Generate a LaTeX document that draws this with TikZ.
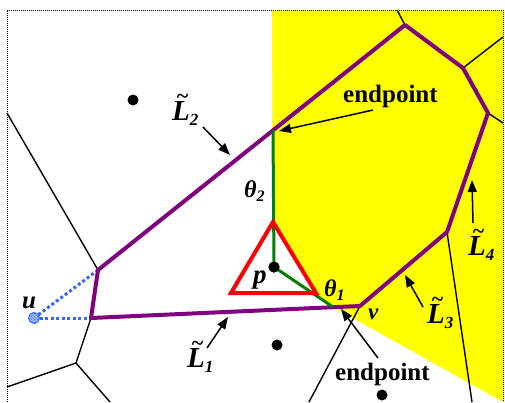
\documentclass[tikz,border=0pt]{standalone}
\usepackage{fontspec}
\setmainfont{Liberation Serif}
\usetikzlibrary{arrows.meta,patterns}
\definecolor{purp}{HTML}{800080}
\definecolor{mygreen}{HTML}{007F00}
\definecolor{ublue}{HTML}{3366FF}
\definecolor{yel}{HTML}{FFFF00}
\newcommand\fsz[1]{\fontsize{#1}{#1}\selectfont}
\newcommand\Ltl[1]{\fsz{29}\bfseries\itshape\ooalign{L\cr\hidewidth\kern0.1em\raisebox{17pt}{\fsz{22}\char"7E}\hidewidth\cr}\raisebox{-0.18em}{\fsz{17}#1}}
\newcommand\Th[1]{\fsz{24}\bfseries\itshape θ\raisebox{-0.2em}{\fsz{16}#1}}
\begin{document}
\begin{tikzpicture}[x=1pt,y=-1pt,
  vor/.style={line width=1.4pt,draw=black},
  bnd/.style={line width=4pt,draw=purp,line join=round},
  greenline/.style={line width=3pt,draw=mygreen},
  lbl/.style={inner sep=0pt,anchor=base west},
  arr/.style={line width=1.5pt,-{Triangle[length=12pt,width=9pt]}},
  site/.style={circle,fill=black,inner sep=0pt,minimum size=11pt},
  udot/.style={dash pattern=on 3pt off 2.5pt,line width=3pt,draw=ublue}
]
\useasboundingbox (0,0) rectangle (505,402);
% vertices
\coordinate (A) at (98,270);
\coordinate (B) at (91,318);
\coordinate (C) at (76,363);
\coordinate (P2) at (405,25);
\coordinate (P3) at (463,68);
\coordinate (P4) at (488,113);
\coordinate (P5) at (447,232);
\coordinate (V) at (360,306);
\coordinate (E2) at (273,130);
\coordinate (E1) at (333,307);
\coordinate (U) at (34,318);
% frame ends
\coordinate (f1) at (7,113);
\coordinate (f2) at (7,387);
\coordinate (f3) at (110,402);
\coordinate (f4) at (397,10);
\coordinate (f5) at (503,37);
\coordinate (f6) at (503,123);
\coordinate (f7) at (472,402);
\coordinate (f8) at (309,402);
% yellow region
\fill[yel] (272,10) -- (503,10) -- (503,402) -- (E1) -- (273,267) -- cycle;
% frame
\draw[line width=0.8pt,dash pattern=on 1pt off 1pt] (7,402) -- (7,10) -- (503,10) -- (503,402);
% voronoi edges
\draw[vor] (f1) -- (A);
\draw[vor] (B) -- (C) -- (f2);
\draw[vor] (C) -- (f3);
\draw[vor] (P2) -- (f4);
\draw[vor] (P3) -- (f5);
\draw[vor] (P4) -- (f6);
\draw[vor] (P5) -- (f7);
\draw[vor] (V) -- (f8);
% u
\draw[udot] (U) -- (A);
\draw[udot] (U) -- (B);
\filldraw[fill=ublue!50,draw=ublue,line width=1pt] (U) circle (5.5);
\fill[pattern=crosshatch dots,pattern color=ublue] (U) circle (5.5);
% purple boundary
\draw[bnd] (A) -- (P2) -- (P3) -- (P4) -- (P5) -- (V) -- (B) -- cycle;
% triangle and green
\fill[white] (273,222) -- (231,293) -- (316,293) -- cycle;
\node[site] (p) at (274,267) {};
\draw[greenline] (E2) -- (p.center) -- (E1);
\draw[red,line width=4pt,line join=miter] (273,222) -- (231,293) -- (316,293) -- cycle;
\node[site] at (274,267) {};
% sites
\node[site] (s1) at (133,100) {};
\node[site] (s3) at (277,345) {};
\node[site] (s4) at (382,395) {};
% labels
\node[lbl] (L2) at (172,120) {\Ltl{2}};
\node[lbl] (L1) at (187,367) {\Ltl{1}};
\node[lbl] (L3) at (427,323) {\Ltl{3}};
\node[lbl] (L4) at (468,255) {\Ltl{4}};
\node[lbl] (ep1) at (343,102) {\fsz{25}\bfseries endpoint};
\node[lbl] (ep2) at (335,380) {\fsz{25}\bfseries endpoint};
\node[lbl] (th2) at (244,197) {\Th{2}};
\node[lbl] (th1) at (324,296) {\Th{1}};
\node[lbl] (pl) at (253,283) {\fsz{27}\bfseries\itshape p};
\node[lbl] (vl) at (368,319) {\fsz{23}\bfseries\itshape v};
\node[lbl] (ul) at (22,308) {\fsz{25}\bfseries\itshape u};
% arrows
\coordinate (a2t) at (203,127); \coordinate (a2h) at (230,155);
\coordinate (e1t) at (373,110); \coordinate (e1h) at (279,131);
\coordinate (a1t) at (207,348); \coordinate (a1h) at (228,317);
\coordinate (e2t) at (378,358); \coordinate (e2h) at (341,309);
\coordinate (a3t) at (423,307); \coordinate (a3h) at (405,275);
\coordinate (a4t) at (473,223); \coordinate (a4h) at (472,180);
\draw[arr] (a2t) -- (a2h);
\draw[arr] (e1t) -- (e1h);
\draw[arr] (a1t) -- (a1h);
\draw[arr] (e2t) -- (e2h);
\draw[arr] (a3t) -- (a3h);
\draw[arr] (a4t) -- (a4h);
\end{tikzpicture}
\end{document}
